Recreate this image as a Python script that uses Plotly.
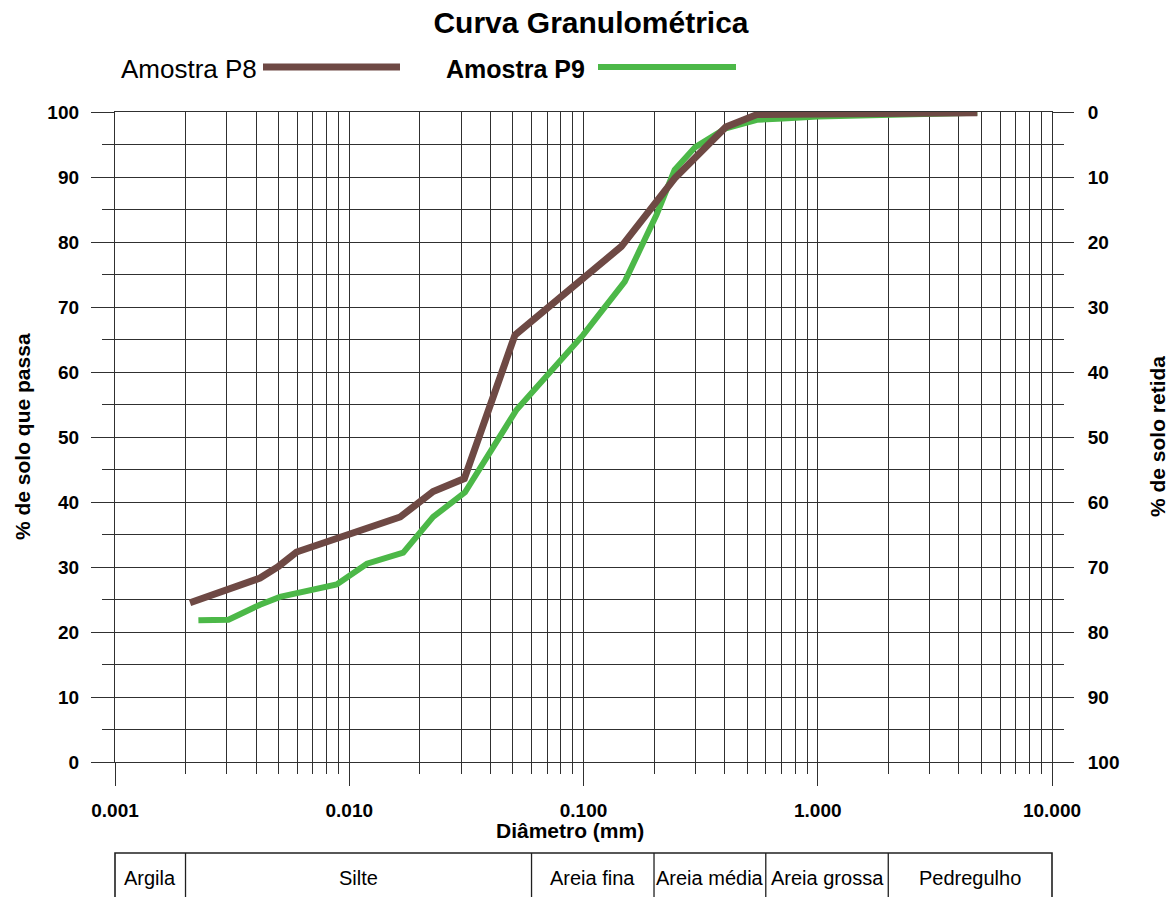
import math
import plotly.graph_objects as go

# ---------------- data ----------------
p8_diam = [0.00209, 0.00416, 0.00499, 0.00596, 0.0165, 0.0228, 0.0310, 0.0510,
           0.145, 0.245, 0.405, 0.55, 1.0, 2.0, 4.8]
p8_pass = [24.5, 28.3, 30.1, 32.3, 37.7, 41.6, 43.6, 65.7,
           79.3, 89.8, 97.7, 99.6, 99.7, 99.8, 99.9]

p9_diam = [0.00227, 0.00305, 0.00416, 0.00506, 0.00884, 0.0119, 0.0170, 0.0200,
           0.0228, 0.0312, 0.0518, 0.0997, 0.150, 0.174, 0.205, 0.245, 0.300,
           0.405, 0.55, 0.71, 1.0, 4.8]
p9_pass = [21.8, 21.9, 24.2, 25.4, 27.3, 30.5, 32.2, 35.2,
           37.7, 41.5, 54.2, 65.7, 73.9, 78.8, 84.2, 91.1, 94.6,
           97.5, 98.8, 99.0, 99.3, 99.9]

x_tickvals = [0.001, 0.01, 0.1, 1, 10]
x_ticktext = ["0.001", "0.010", "0.100", "1.000", "10.000"]
y_tickvals = [0, 10, 20, 30, 40, 50, 60, 70, 80, 90, 100]

# soil classification bands (mm limits)
band_limits = [0.001, 0.002, 0.06, 0.2, 0.6, 2.0, 10.0]
band_names = ["Argila", "Silte", "Areia fina", "Areia média", "Areia grossa", "Pedregulho"]

# ---------------- style ----------------
FONT = "Liberation Sans, Arial, sans-serif"
GRID = "#303030"
BROWN = "#6e4944"
GREEN = "#4cb848"

W, H = 1174, 897
L, R, T, B = 115, 122, 112, 135
PW, PH = W - L - R, H - T - B


def px_x(px):
    return (px - L) / PW


def px_y(py):
    return (H - B - py) / PH


def logpaper(v):
    lo, hi = math.log10(x_tickvals[0]), math.log10(x_tickvals[-1])
    return (math.log10(v) - lo) / (hi - lo)


minor_vals = [m * d for d in [0.001, 0.01, 0.1, 1] for m in range(2, 10)]

fig = go.Figure()
fig.add_trace(go.Scatter(x=p9_diam, y=p9_pass, mode="lines", name="Amostra P9",
                         line=dict(color=GREEN, width=6), showlegend=False))
fig.add_trace(go.Scatter(x=p8_diam, y=p8_pass, mode="lines", name="Amostra P8",
                         line=dict(color=BROWN, width=7), showlegend=False))
# right axis carrier (invisible)
fig.add_trace(go.Scatter(x=[x_tickvals[0]], y=[0], yaxis="y2", mode="markers",
                         marker=dict(opacity=0), showlegend=False, hoverinfo="skip"))

fig.update_layout(
    width=W, height=H, autosize=False,
    margin=dict(l=L, r=R, t=T, b=B),
    paper_bgcolor="white", plot_bgcolor="white",
    font=dict(family=FONT, color="black"),
    title=dict(text="Curva Granulométrica", x=px_x(591), xref="paper", xanchor="center",
               y=1 - 22 / H, yref="container", yanchor="middle",
               font=dict(family=FONT, size=30, weight="bold", color="black")),
    xaxis=dict(
        type="log", range=[-3, 1],
        tickmode="array", tickvals=x_tickvals, ticktext=x_ticktext,
        ticks="outside", ticklen=23, tickwidth=1.3, tickcolor=GRID,
        showgrid=True, gridcolor=GRID, gridwidth=1.3,
        zeroline=False, showline=True, mirror=True, linecolor=GRID, linewidth=1.3,
        tickfont=dict(family=FONT, size=19, weight="bold"),
        ticklabelstandoff=8,
        minor=dict(tickmode="array", tickvals=minor_vals, ticks="outside", ticklen=11,
                   tickwidth=1.3, tickcolor=GRID, showgrid=True, gridcolor=GRID, gridwidth=1.3),
    ),
    yaxis=dict(
        range=[0, 100], tickmode="array", tickvals=y_tickvals,
        ticks="outside", ticklen=23, tickwidth=1.3, tickcolor=GRID,
        showgrid=True, gridcolor=GRID, gridwidth=1.3,
        zeroline=False, showline=True, mirror=True, linecolor=GRID, linewidth=1.3,
        tickfont=dict(family=FONT, size=19, weight="bold"),
        ticklabelstandoff=8,
        minor=dict(dtick=5, tick0=0, ticks="outside", ticklen=12, tickwidth=1.3,
                   tickcolor=GRID, showgrid=True, gridcolor=GRID, gridwidth=1.3),
    ),
    yaxis2=dict(
        range=[0, 100], overlaying="y", side="right", anchor="x",
        tickmode="array", tickvals=y_tickvals,
        ticktext=[str(100 - v) for v in y_tickvals],
        ticks="outside", ticklen=21, tickwidth=1.3, tickcolor=GRID,
        showgrid=False, zeroline=False, showline=False,
        tickfont=dict(family=FONT, size=19, weight="bold"),
        ticklabelstandoff=10,
        minor=dict(dtick=5, tick0=0, ticks="outside", ticklen=11, tickwidth=1.3,
                   tickcolor=GRID, showgrid=False),
    ),
)

ann = []
shapes = []

# axis titles
ann.append(dict(text="% de solo que passa", xref="paper", yref="paper", x=px_x(22), y=0.5,
                textangle=-90, showarrow=False, xanchor="center", yanchor="middle",
                font=dict(family=FONT, size=21, weight="bold")))
ann.append(dict(text="% de solo retida", xref="paper", yref="paper", x=px_x(1157), y=0.5,
                textangle=-90, showarrow=False, xanchor="center", yanchor="middle",
                font=dict(family=FONT, size=21, weight="bold")))
ann.append(dict(text="Diâmetro (mm)", xref="paper", yref="paper", x=px_x(570), y=px_y(830),
                showarrow=False, xanchor="center", yanchor="middle",
                font=dict(family=FONT, size=21, weight="bold")))

# custom legend
ann.append(dict(text="Amostra P8", xref="paper", yref="paper", x=px_x(259), y=px_y(69),
                showarrow=False, xanchor="right", yanchor="middle",
                font=dict(family=FONT, size=26)))
shapes.append(dict(type="line", xref="paper", yref="paper", x0=px_x(263), x1=px_x(400),
                   y0=px_y(67), y1=px_y(67), line=dict(color=BROWN, width=7)))
ann.append(dict(text="Amostra P9", xref="paper", yref="paper", x=px_x(587), y=px_y(69),
                showarrow=False, xanchor="right", yanchor="middle",
                font=dict(family=FONT, size=25, weight="bold")))
shapes.append(dict(type="line", xref="paper", yref="paper", x0=px_x(598), x1=px_x(736),
                   y0=px_y(67), y1=px_y(67), line=dict(color=GREEN, width=6)))

# classification table
tb_top, tb_bot, tb_txt = px_y(853), px_y(900), px_y(878)
shapes.append(dict(type="rect", xref="paper", yref="paper", x0=0, x1=1, y0=tb_bot, y1=tb_top,
                   line=dict(color="#202020", width=1.6)))
for lim in band_limits[1:-1]:
    shapes.append(dict(type="line", xref="paper", yref="paper", x0=logpaper(lim), x1=logpaper(lim),
                       y0=tb_bot, y1=tb_top, line=dict(color="#202020", width=1.3)))
for i, name in enumerate(band_names):
    cx = (logpaper(band_limits[i]) + logpaper(band_limits[i + 1])) / 2
    ann.append(dict(text=name, xref="paper", yref="paper", x=cx, y=tb_txt, showarrow=False,
                    xanchor="center", yanchor="middle", font=dict(family=FONT, size=20)))

fig.update_layout(annotations=ann, shapes=shapes)
fig.write_html("out.html")
